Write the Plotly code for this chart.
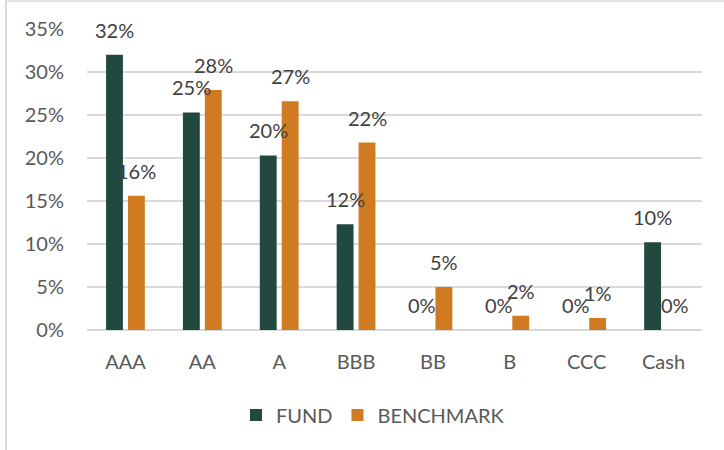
import plotly.graph_objects as go

categories = ["AAA", "AA", "A", "BBB", "BB", "B", "CCC", "Cash"]
fund = [32.0, 25.3, 20.3, 12.3, 0.0, 0.0, 0.0, 10.2]
benchmark = [15.6, 27.9, 26.6, 21.8, 5.0, 1.66, 1.4, 0.0]
y_ticks = [0, 5, 10, 15, 20, 25, 30, 35]

GREEN = "#22493F"
ORANGE = "#D07A22"
FONT = "Lato, 'Open Sans', sans-serif"
FS = 20

fig = go.Figure()
fig.add_trace(go.Bar(name="FUND", x=categories, y=fund, marker_color=GREEN,
                     marker_line_width=0))
fig.add_trace(go.Bar(name="BENCHMARK", x=categories, y=benchmark, marker_color=ORANGE,
                     marker_line_width=0))

annotations = []
for series, shift in ((fund, -11), (benchmark, 11)):
    for c, v in zip(categories, series):
        annotations.append(dict(x=c, y=v, xref="x", yref="y", text=f"{round(v)}%",
                                showarrow=False, xshift=shift, yshift=25,
                                font=dict(family=FONT, size=FS, color="#404040")))

fig.update_layout(
    width=724, height=450,
    margin=dict(l=87, r=22, t=29, b=120),
    paper_bgcolor="white", plot_bgcolor="white",
    barmode="group", bargap=0.43, bargroupgap=0.23,
    font=dict(family=FONT, size=FS, color="#595959"),
    showlegend=True,
    legend=dict(orientation="h", x=0.465, xanchor="center", y=-0.282, yanchor="middle",
                font=dict(family=FONT, size=FS, color="#595959"),
                itemwidth=30, traceorder="normal"),
    annotations=annotations,
    shapes=[
        dict(type="line", xref="paper", yref="paper", x0=-0.1317, x1=-0.1317,
             y0=-0.4, y1=1.0963, line=dict(color="#d9d9d9", width=2)),
        dict(type="line", xref="paper", yref="paper", x0=-0.1317, x1=1.04,
             y0=1.093, y1=1.093, line=dict(color="#e3e3e3", width=2)),
    ],
)
fig.update_yaxes(range=[0, 35], tickvals=y_ticks, ticktext=[f"{t}%" for t in y_ticks],
                 showgrid=True, gridcolor="#d9d9d9", gridwidth=1.5,
                 zeroline=True, zerolinecolor="#d9d9d9", zerolinewidth=1.5,
                 showline=False, ticks="", ticklabelstandoff=22,
                 tickfont=dict(family=FONT, size=FS, color="#595959"))
fig.update_xaxes(showgrid=False, showline=False, ticks="", ticklabelstandoff=18,
                 tickfont=dict(family=FONT, size=FS, color="#595959"))

fig.write_html("out.html", config={"displayModeBar": False},
               post_script="document.body.style.margin='0';")
